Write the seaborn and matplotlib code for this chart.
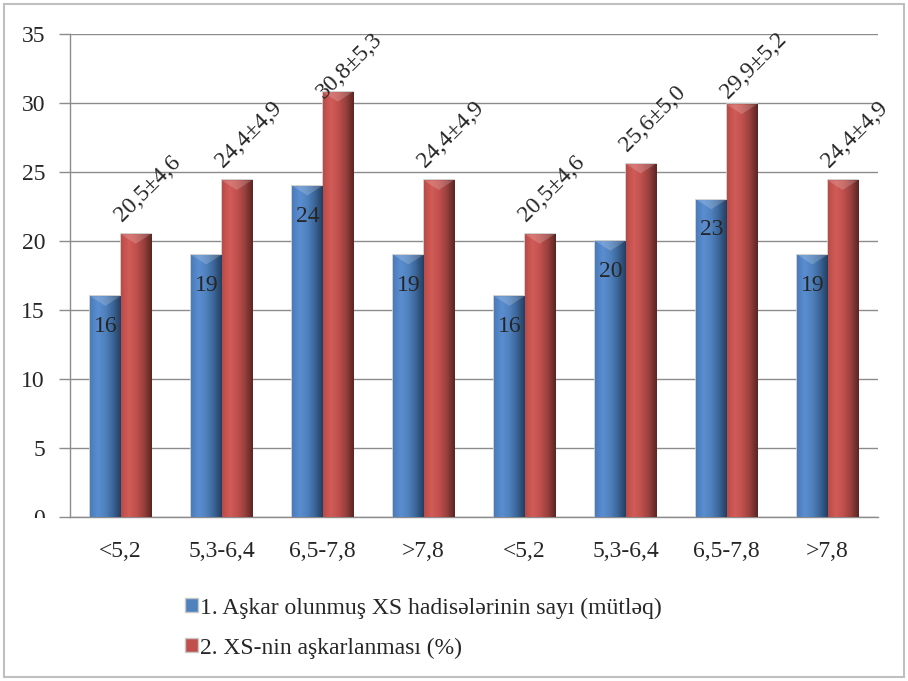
import numpy as np
import pandas as pd
import matplotlib.pyplot as plt
import seaborn as sns
from matplotlib.colors import LinearSegmentedColormap
from matplotlib.patches import Rectangle

categories = ["<5,2", "5,3-6,4", "6,5-7,8", ">7,8", "<5,2", "5,3-6,4", "6,5-7,8", ">7,8"]
cases = [16, 19, 24, 19, 16, 20, 23, 19]
percent = [20.5, 24.4, 30.8, 24.4, 20.5, 25.6, 29.9, 24.4]
percent_labels = ["20,5±4,6", "24,4±4,9", "30,8±5,3", "24,4±4,9",
                  "20,5±4,6", "25,6±5,0", "29,9±5,2", "24,4±4,9"]
series_names = ["1. Aşkar olunmuş XS hadisələrinin sayı (mütləq)",
                "2. XS-nin aşkarlanması (%)"]

n = len(categories)
df = pd.DataFrame({
    "pos": list(range(n)) * 2,
    "value": cases + percent,
    "series": [series_names[0]] * n + [series_names[1]] * n,
})

sns.set_style("white")
FONT = 'Liberation Serif'
plt.rcParams['font.family'] = FONT
FS = 17

fig = plt.figure(figsize=(9.08, 6.81), dpi=100)
ax = fig.add_axes([0.0771, 0.2408, 0.8899, 0.7092])

colors = ["#4F81BD", "#C0504D"]
sns.barplot(data=df, x="pos", y="value", hue="series", order=list(range(n)),
            palette=colors, width=0.6, edgecolor="#c8c8c8", linewidth=1.2,
            legend=False, ax=ax, zorder=3)

# shading like the office 3d bars
cmaps = [
    LinearSegmentedColormap.from_list("b", ["#4a7cbb", "#5b8ed0", "#4f81bd", "#3b6597", "#233f60"]),
    LinearSegmentedColormap.from_list("r", ["#bb4b48", "#d15c58", "#c0504d", "#97403d", "#5a2523"]),
]
grad = np.linspace(0, 1, 64).reshape(1, -1)
for k, cont in enumerate(ax.containers):
    for p in cont.patches:
        x0, w, h = p.get_x(), p.get_width(), p.get_height()
        im = ax.imshow(grad, cmap=cmaps[k], aspect="auto",
                       extent=[x0, x0 + w, 0, h], zorder=3.5)
        im.set_clip_path(p)
        top = plt.Polygon([[x0, h], [x0 + w, h], [x0 + w / 2, h - 0.7]],
                          closed=True, color="white", alpha=0.18, zorder=3.6, lw=0)
        ax.add_patch(top)

blue_bars, red_bars = ax.containers[0], ax.containers[1]
for p, v in zip(blue_bars.patches, cases):
    ax.text(p.get_x() + p.get_width() / 2, v - 2.2, str(v), ha="center", va="center",
            fontsize=FS, fontfamily=FONT, zorder=5)
for p, v, lab in zip(red_bars.patches, percent, percent_labels):
    # labels near the top get pushed down so they stay inside the chart
    ax.text(p.get_x() + 0.02, min(v + 0.85, 30.3), lab, rotation=45, rotation_mode="anchor",
            ha="left", va="baseline", fontsize=FS, fontfamily=FONT, zorder=5)

ax.set_xlim(-0.5, n - 0.5)
ax.set_ylim(0, 35)
ax.set_yticks(range(0, 36, 5))
ax.set_xticks(range(n))
ax.set_xticklabels(categories, fontfamily=FONT)
ax.set_yticklabels([str(v) for v in range(0, 36, 5)], fontfamily=FONT)
ax.set_xticks(np.arange(-0.5, n, 1), minor=True)
ax.set_xlabel("")
ax.set_ylabel("")
ax.yaxis.grid(True, color="#8c8c8c", linewidth=1.0, zorder=0)
ax.set_axisbelow(True)
ax.tick_params(axis="x", which="major", length=0, pad=17, labelsize=FS)
ax.tick_params(axis="x", which="minor", length=8, color="#8c8c8c", width=1)
ax.tick_params(axis="y", length=8, color="#8c8c8c", width=1, pad=10, labelsize=FS, left=True)
for side in ["top", "right"]:
    ax.spines[side].set_visible(False)
for side in ["left", "bottom"]:
    ax.spines[side].set_color("#8c8c8c")
    ax.spines[side].set_linewidth(1.0)

# the "0" label is cut in half in the original
fig.patches.append(Rectangle((0.01, 0.19), 0.055, 1 - 518 / 681 - 0.19,
                             transform=fig.transFigure,
                             facecolor="white", edgecolor="none", zorder=10))

handles = [Rectangle((0, 0), 1, 1, facecolor=c, edgecolor="#c8c8c8") for c in colors]
fig.legend(handles, series_names, loc="upper left",
           bbox_to_anchor=(0.193, 1 - 588 / 681),
           frameon=False, prop={"family": FONT, "size": FS},
           handlelength=0.55, handleheight=0.55,
           handletextpad=0.1, labelspacing=0.8, borderaxespad=0)

fig.patches.append(Rectangle((0.004, 0.006), 0.992, 0.988, transform=fig.transFigure,
                             facecolor="none", edgecolor="#bfbfbf", linewidth=1.5, zorder=0))

plt.savefig("out.png", dpi=100)
